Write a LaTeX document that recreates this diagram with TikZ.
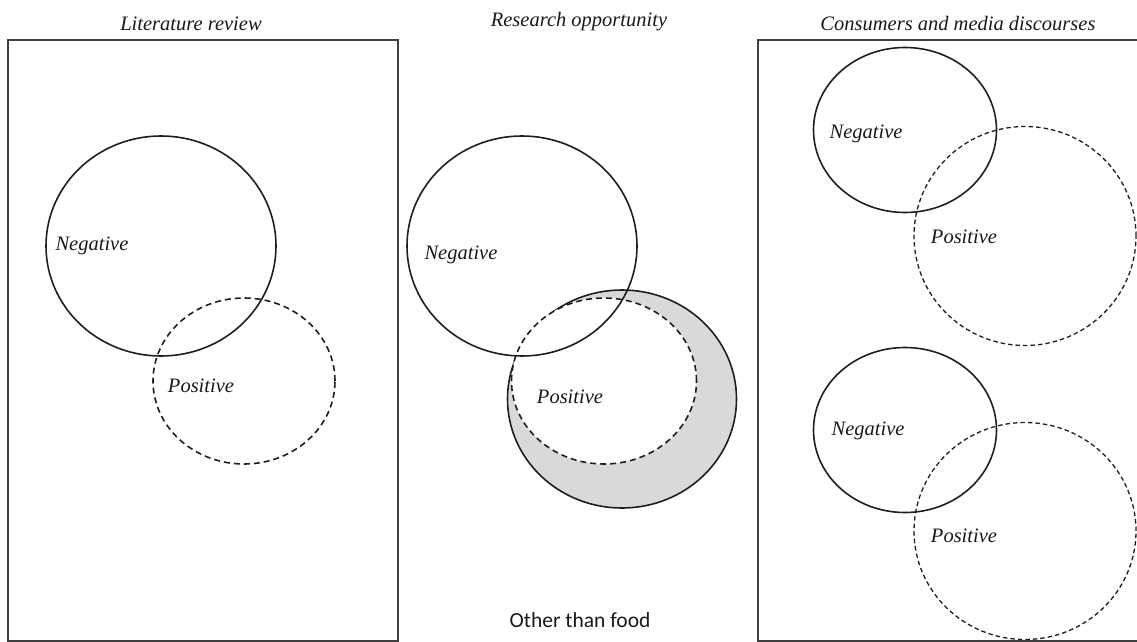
\documentclass[tikz,border=0pt]{standalone}
\usepackage{fontspec}
\setmainfont{Liberation Serif}
\newfontfamily\labelsans{Carlito}
\usetikzlibrary{shapes.geometric}
\definecolor{boxline}{HTML}{404040}
\definecolor{circline}{HTML}{1E1E1E}
\definecolor{shade}{HTML}{D9D9D9}
\tikzset{
  panel/.style={draw=boxline, line width=2.4pt},
  ring/.style={ellipse, draw=circline, line width=1.6pt, inner sep=0pt},
  dashring/.style={ring, dash pattern=on 6pt off 4pt},
  fineDash/.style={ring, line width=1.3pt, dash pattern=on 4.5pt off 3pt},
  lbl/.style={font=\fontsize{20.5}{24}\selectfont\itshape, text=black!90, inner sep=0pt},
  ttl/.style={font=\fontsize{20.5}{24}\selectfont\itshape, text=black!90, inner sep=0pt},
}
\begin{document}
\begin{tikzpicture}[x=1pt,y=-1pt]
\useasboundingbox (0,0) rectangle (1137,642);
% titles
\node[ttl] (t1) at (191,24) {Literature review};
\node[ttl] (t2) at (579,22) {Research opportunity};
\node[ttl] (t3) at (958,24) {Consumers and media discourses};
% panels
\draw[panel] (8,40) rectangle (398,641);
\draw[panel] (1140,40) -- (758,40) -- (758,641) -- (1140,641);
% left panel
\node[ring, minimum width=230pt, minimum height=220pt] (lneg) at (161,246) {};
\node[dashring, minimum width=182pt, minimum height=166pt] (lpos) at (244,381) {};
\node[lbl] (lnegt) at (92,246) {Negative};
\node[lbl] (lpost) at (201,386) {Positive};
% middle
\node[ring, fill=shade, minimum width=229pt, minimum height=218pt] (mgray) at (622,399) {};
\node[dashring, fill=white, minimum width=185pt, minimum height=166pt] (mpos) at (604,381) {};
\node[ring, minimum width=230pt, minimum height=220pt] (mneg) at (522,246) {};
\node[lbl] (mnegt) at (461,255) {Negative};
\node[lbl] (mpost) at (570,397) {Positive};
\node[font=\labelsans\fontsize{21.5}{25}\selectfont, text=black!90, inner sep=0pt] (other) at (580,620) {Other than food};
% right top
\node[ring, minimum width=183pt, minimum height=165pt] (rneg1) at (905,130) {};
\node[fineDash, minimum width=222pt, minimum height=219pt] (rpos1) at (1025,236) {};
\node[lbl] (rnegt1) at (866,134) {Negative};
\node[lbl] (rpost1) at (964,237) {Positive};
% right bottom
\node[ring, minimum width=183pt, minimum height=165pt] (rneg2) at (905,430) {};
\node[fineDash, minimum width=222pt, minimum height=217pt] (rpos2) at (1025,531) {};
\node[lbl] (rnegt2) at (868,431) {Negative};
\node[lbl] (rpost2) at (964,536) {Positive};
\end{tikzpicture}
\end{document}
